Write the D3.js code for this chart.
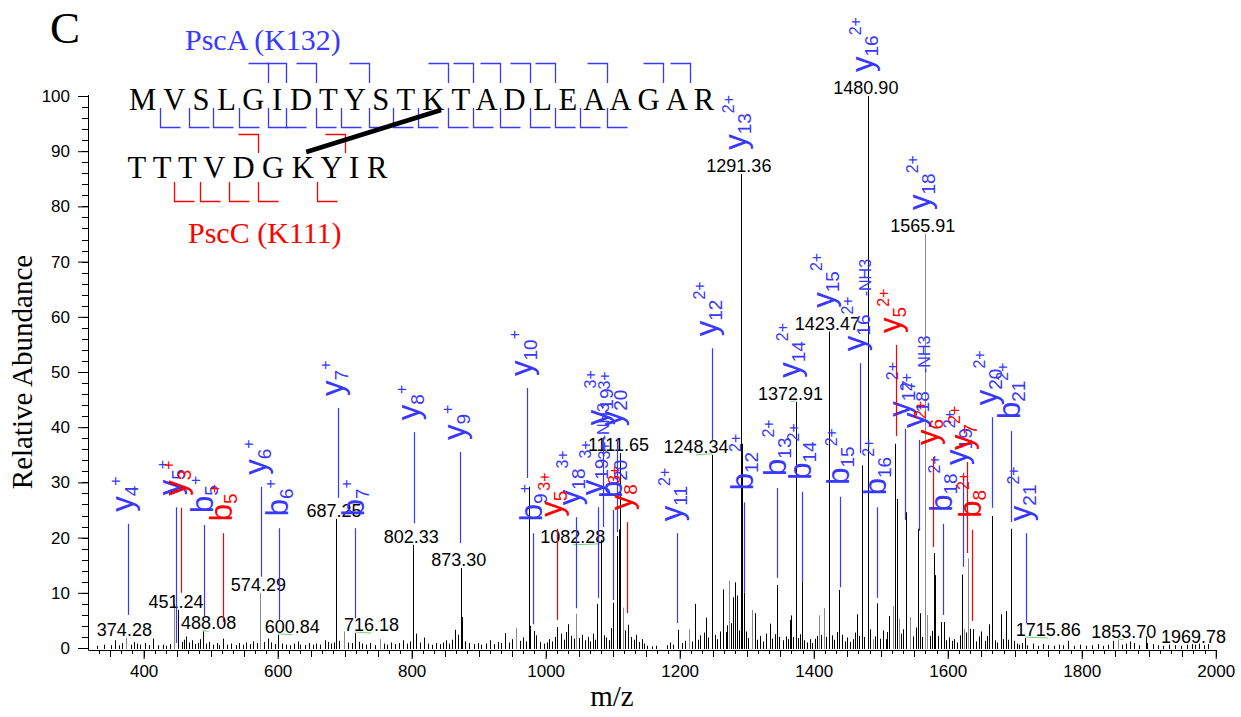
<!DOCTYPE html>
<html>
<head>
<meta charset="UTF-8">
<title>PscA (K132) - PscC (K111) cross-linked peptide, MS/MS spectrum</title>
<script src="https://cdn.jsdelivr.net/npm/d3@7"></script>
<style>
  body { margin: 0; background: #fff; }
  svg { display: block; }
  .axis text { font-family: "Liberation Sans", Arial, sans-serif; font-size: 17px; fill: #000; }
  .axis path, .axis line { stroke: #000; }
  .serif { font-family: "Liberation Serif", "Times New Roman", serif; }
  .sans { font-family: "Liberation Sans", Arial, sans-serif; }
</style>
</head>
<body>
<div id="chart"></div>
<script>
// ---- data: [m/z, relative abundance] ----
var peaks = [
  [330.5,0.4],[341.2,0.6],[352.0,0.5],[357.3,1.4],[362.8,0.5],[368.1,0.9],[374.28,1.9],[381.6,0.6],
  [386.2,1.1],[390.4,0.8],[395.0,0.6],[401.7,0.9],[407.3,0.5],[414.1,1.7],[421.5,0.5],[428.9,0.6],
  [433.2,0.4],[439.8,0.7],[446.0,8.0],[451.24,6.9],[457.5,1.1],[460.5,1.5],[463.4,2.1],[468.0,1.0],
  [472.6,1.4],[477.0,0.7],[481.3,0.9],[484.7,1.6],[488.08,3.0],[493.0,0.8],[497.5,1.1],[503.6,0.6],
  [509.2,0.9],[513.0,0.5],[518.9,1.7],[524.4,0.6],[531.0,0.8],[537.2,0.5],[542.7,0.9],[548.3,0.6],
  [553.1,1.0],[558.9,0.7],[563.2,1.2],[568.7,0.9],[574.29,10.0],[579.6,1.1],[585.0,1.7],[590.3,1.0],
  [596.2,0.7],[600.84,2.4],[606.1,0.8],[612.5,0.6],[618.0,0.5],[624.4,0.8],[629.8,1.2],[634.1,0.6],
  [640.5,0.5],[646.9,0.9],[652.3,0.6],[658.0,0.8],[663.7,0.6],[670.6,1.4],[675.3,1.1],[680.2,0.8],
  [684.0,1.0],[687.25,23.4],[691.0,1.3],[699.4,3.0],[704.3,1.0],[710.5,0.9],[716.18,2.7],[720.8,1.1],
  [726.0,0.8],[731.7,0.6],[738.2,0.9],[744.6,0.5],[752.7,1.6],[758.3,0.8],[763.0,0.6],[769.5,1.0],
  [775.1,0.7],[781.4,0.9],[787.0,1.4],[793.8,0.8],[797.6,1.2],[801.5,2.0],[802.33,18.7],[806.4,2.6],
  [812.1,1.0],[818.8,1.9],[824.5,0.8],[830.2,0.6],[836.7,0.9],[842.3,0.7],[846.9,1.0],[851.0,1.4],
  [856.4,0.8],[860.3,1.5],[864.6,3.3],[869.0,2.4],[873.30,14.5],[875.0,5.6],[880.2,1.2],[886.0,0.9],
  [892.4,0.7],[898.7,0.9],[904.1,0.6],[911.0,0.8],[917.0,1.4],[923.5,0.7],[928.8,1.1],[933.4,0.9],
  [939.0,2.7],[944.6,1.0],[950.2,1.6],[956.0,3.6],[961.8,1.3],[966.5,1.9],[970.0,1.2],[975.5,29.2],
  [977.0,4.0],[982.0,3.1],[986.0,2.3],[991.4,1.1],[996.8,0.8],[1001.3,1.0],[1005.0,1.6],[1010.2,1.2],
  [1013.5,2.0],[1017.0,3.8],[1022.6,2.6],[1027.1,1.5],[1030.0,2.9],[1033.7,4.3],[1038.5,2.2],[1042.0,1.7],
  [1045.7,6.2],[1050.3,1.8],[1054.0,2.4],[1058.5,1.4],[1062.7,2.0],[1066.3,1.2],[1070.9,2.6],[1074.0,1.5],
  [1077.0,8.0],[1082.28,19.6],[1086.4,2.3],[1090.0,1.9],[1094.2,1.4],[1097.0,3.6],[1100.0,8.2],[1106.0,20.3],
  [1109.5,21.5],[1111.65,35.3],[1115.0,7.3],[1118.3,3.2],[1123.0,4.2],[1127.5,2.0],[1131.2,1.5],[1135.4,2.4],
  [1139.0,1.1],[1143.6,1.6],[1147.0,0.8],[1152.0,0.4],[1158.0,0.3],[1165.0,0.4],[1180.5,0.5],[1185.0,1.0],
  [1190.3,0.6],[1198.0,3.3],[1203.4,0.9],[1208.0,1.3],[1214.0,3.4],[1218.5,1.2],[1223.0,8.0],[1227.6,1.5],
  [1231.0,2.3],[1236.0,2.8],[1239.0,5.5],[1243.0,1.9],[1247.7,16.5],[1248.34,35.0],[1252.0,2.4],[1256.3,1.6],
  [1260.0,3.0],[1264.0,10.6],[1268.5,2.9],[1271.0,4.1],[1274.0,12.2],[1277.0,4.5],[1280.0,9.2],[1282.5,11.9],
  [1285.0,9.5],[1288.0,3.2],[1291.36,85.9],[1293.4,37.0],[1296.0,10.0],[1298.6,3.0],[1302.0,1.8],[1307.5,6.9],
  [1312.0,6.3],[1316.0,1.5],[1320.5,2.2],[1325.0,1.2],[1329.3,2.6],[1334.8,4.4],[1338.5,1.7],[1342.0,2.5],
  [1345.6,11.4],[1349.0,2.0],[1353.5,1.4],[1358.0,2.1],[1361.0,1.6],[1364.6,5.1],[1366.5,5.9],[1369.5,2.0],
  [1372.91,44.6],[1376.0,1.8],[1379.0,2.5],[1382.5,12.2],[1386.0,1.4],[1390.5,1.0],[1394.0,1.6],[1398.0,0.9],
  [1401.5,1.7],[1405.0,2.2],[1408.4,5.9],[1411.0,2.4],[1415.0,7.2],[1418.0,2.0],[1423.47,57.3],[1427.0,2.3],
  [1431.0,1.5],[1435.0,2.9],[1438.0,10.5],[1442.0,2.4],[1446.5,1.2],[1450.0,1.9],[1454.5,1.1],[1458.0,1.6],
  [1461.0,2.8],[1464.0,6.1],[1468.0,2.2],[1471.6,33.1],[1475.0,2.0],[1480.90,100],[1484.0,3.4],[1488.0,1.6],
  [1491.0,2.1],[1494.9,8.1],[1499.0,1.7],[1503.0,3.2],[1507.5,1.6],[1510.0,2.9],[1513.0,5.8],[1518.0,7.6],
  [1521.7,37.0],[1524.8,27.0],[1528.0,5.3],[1531.0,2.6],[1534.0,3.4],[1537.3,24.6],[1544.0,5.6],[1548.0,2.1],
  [1552.0,3.7],[1556.0,21.6],[1558.5,6.3],[1562.0,2.0],[1565.91,75.0],[1569.0,6.0],[1573.0,2.2],[1576.0,3.1],
  [1580.0,17.2],[1581.5,13.2],[1585.0,2.2],[1590.0,4.7],[1594.5,4.7],[1598.0,1.4],[1602.0,1.9],[1606.0,1.3],
  [1610.0,1.6],[1614.0,1.0],[1618.0,2.3],[1621.8,13.3],[1625.0,3.5],[1628.0,2.8],[1630.7,16.2],[1634.0,3.5],
  [1638.0,3.4],[1642.0,1.2],[1646.0,2.1],[1650.0,3.0],[1655.0,1.3],[1659.0,2.2],[1662.0,4.3],[1666.5,23.9],
  [1670.0,1.4],[1674.0,1.0],[1679.0,6.1],[1682.0,1.6],[1686.6,6.7],[1690.0,1.5],[1695.0,21.6],[1699.0,1.3],
  [1703.0,0.8],[1707.0,0.6],[1711.0,0.9],[1715.86,1.8],[1719.0,0.5],[1727.0,0.8],[1735.0,0.4],[1742.0,0.7],
  [1750.0,0.5],[1758.0,0.4],[1766.0,0.6],[1772.0,0.5],[1779.0,1.3],[1788.0,0.4],[1797.0,0.6],[1806.0,0.4],
  [1815.0,0.5],[1824.0,0.7],[1832.0,0.4],[1840.0,0.6],[1846.0,1.3],[1853.70,1.5],[1860.0,0.6],[1866.0,0.8],
  [1872.0,1.2],[1878.0,0.9],[1886.0,0.5],[1895.4,2.1],[1898.0,0.9],[1906.0,0.7],[1914.0,0.5],[1922.0,0.4],
  [1931.0,0.6],[1940.0,0.5],[1948.0,0.4],[1957.0,0.6],[1964.0,0.7],[1969.78,0.6],[1975.0,0.8],[1983.0,0.5],
  [1989.0,0.7]
];

// peaks that the software drew in grey
var greyPeaks = [374.28, 446.0, 574.29, 699.4, 752.7, 956.0, 1045.7, 1115.0, 1214.0, 1274.0, 1307.5,
  1408.4, 1415.0, 1488.0, 1518.0, 1528.0, 1544.0, 1565.91, 1569.0, 1625.0, 1630.7, 1853.70];

// peaks carrying an m/z label
var labelledPeaks = [374.28, 451.24, 488.08, 574.29, 600.84, 687.25, 716.18, 802.33, 873.30, 1082.28,
  1111.65, 1248.34, 1291.36, 1372.91, 1423.47, 1480.90, 1565.91, 1715.86, 1853.70, 1969.78];

// fragment ions: [series, number, charge, loss, m/z, line bottom, line top]
// (a null bottom means the label sits on the peak itself)
var ionsPscA = [
  ["y","4","+","",377.0,6.0,22.5],
  ["y","5","+","",447.8,0.9,25.5],
  ["b","5","+","",490.4,5.8,22.3],
  ["y","6","+","",575.5,12.9,29.2],
  ["b","6","+","",602.4,5.1,21.7],
  ["y","7","+","",690.4,27.2,43.5],
  ["b","7","+","",715.8,5.4,21.7],
  ["y","8","+","",803.9,22.6,39.1],
  ["y","9","+","",872.5,19.0,35.5],
  ["y","10","+","",972.5,30.8,47.1],
  ["b","9","+","",981.5,4.3,20.8],
  ["y","18","3+","",1044.8,7.2,23.7],
  ["y","19","3+","-NH3",1078.5,9.1,25.5],
  ["y","19","3+","",1086.0,21.9,38.2],
  ["b","20","3+","",1100.9,8.7,25.0],
  ["y","20","3+","",1106.9,21.0,38.0],
  ["y","11","2+","",1196.4,4.5,20.8],
  ["y","12","2+","",1248.6,37.7,54.3],
  ["y","13","2+","",1291.36,null,85.9],
  ["b","12","2+","",1296.4,10.0,26.4],
  ["b","13","2+","",1345.6,12.7,29.0],
  ["y","14","2+","",1372.91,null,44.6],
  ["b","14","2+","",1383.0,12.0,28.3],
  ["y","15","2+","",1423.47,null,57.3],
  ["b","15","2+","",1439.7,11.0,27.4],
  ["y","16","2+","-NH3",1469.5,35.3,51.6],
  ["y","16","2+","",1480.90,null,100],
  ["b","16","2+","",1494.9,9.1,25.5],
  ["y","17","2+","",1536.7,23.2,39.7],
  ["y","18","2+","-NH3",1557.6,21.2,37.7],
  ["y","18","2+","",1565.91,null,75.0],
  ["b","18","2+","",1593.4,6.0,22.5],
  ["y","19","2+","",1622.4,14.7,31.0],
  ["y","20","2+","",1666.5,25.4,41.8],
  ["b","21","2+","",1694.9,22.8,39.3],
  ["y","21","2+","",1717.3,4.5,20.8]
];
var ionsPscC = [
  ["y","3","+","",456.1,10.0,25.4],
  ["b","5","+","",518.8,4.7,20.8],
  ["y","5","3+","",1017.3,5.1,21.6],
  ["y","8","3+","",1121.8,6.3,22.8],
  ["y","5","2+","",1522.8,38.4,54.9],
  ["y","6","2+","",1578.5,18.3,34.6],
  ["y","7","2+","",1629.2,17.2,33.7],
  ["b","8","2+","",1636.7,4.9,21.4]
];

// peptide sequences and observed cleavages (after residue n, 1-based)
var seqPscA = "MVSLGIDTYSTKTADLEAAGAR";
var seqPscC = "TTTVDGKYIR";
var cutsPscAAbove = [5, 6, 7, 9, 12, 13, 14, 15, 16, 18, 20, 21];
var cutsPscABelow = [1, 2, 3, 4, 5, 6, 7, 8, 9, 10, 11, 12, 13, 14, 15, 16, 17, 18];
var cutsPscCAbove = [5, 8];
var cutsPscCBelow = [2, 3, 4, 5, 7];
var linkPscA = 12, linkPscC = 7;   // the two cross-linked K residues

// ---- layout ----
var width = 1241, height = 717;
var blue = "#3838ff", red = "#ff0000";
// labels moved aside by the software (px), with a green leader back to the peak
var labelShift = { 488.08: [6, 0], 600.84: [14, 0], 716.18: [16, 0], 1082.28: [-28, 5],
  1248.34: [-16, 0], 1372.91: [-5, 0], 1715.86: [23, 0], 1853.70: [6, 0] };

var svg = d3.select("#chart").append("svg")
    .attr("width", width).attr("height", height);

var x = d3.scaleLinear().domain([317, 2000]).range([88, 1215.7]);
var y = d3.scaleLinear().domain([0, 100]).range([648, 96]);

// axes
var xAxis = svg.append("g").attr("class", "axis").attr("transform", "translate(0,650)")
    .call(d3.axisBottom(x).tickValues(d3.range(400, 2001, 200)).tickFormat(d3.format("d"))
      .tickSize(9).tickSizeOuter(0).tickPadding(6));
var minorX = d3.range(20, 121).map(function (k) { return k * 100 / 6; });
xAxis.selectAll(".minor").data(minorX).enter().append("line")
    .attr("class", "minor")
    .attr("x1", function (d) { return Math.round(x(d)) + 0.5; })
    .attr("x2", function (d) { return Math.round(x(d)) + 0.5; })
    .attr("y1", 0)
    .attr("y2", function (d, i) { return (i + 20) % 3 === 0 ? 7 : 4; })
    .attr("stroke", "#000");

var yAxis = svg.append("g").attr("class", "axis").attr("transform", "translate(88,0)")
    .call(d3.axisLeft(y).tickValues(d3.range(0, 101, 10)).tickSize(10).tickSizeOuter(0).tickPadding(8));
yAxis.selectAll(".minor").data(d3.range(0, 101, 2)).enter().append("line")
    .attr("class", "minor")
    .attr("x1", -6).attr("x2", 0)
    .attr("y1", function (d) { return Math.round(y(d)) + 0.5; })
    .attr("y2", function (d) { return Math.round(y(d)) + 0.5; })
    .attr("stroke", "#000");
yAxis.select(".domain").attr("d", "M0.5," + (y(100) - 1) + "V650.5");

svg.append("text").attr("class", "serif")
    .attr("transform", "translate(32,372) rotate(-90)")
    .attr("text-anchor", "middle").attr("font-size", 29)
    .text("Relative Abundance");
svg.append("text").attr("class", "serif")
    .attr("x", 612).attr("y", 706).attr("text-anchor", "middle").attr("font-size", 29)
    .text("m/z");
svg.append("text").attr("class", "serif")
    .attr("x", 50).attr("y", 43).attr("font-size", 45)
    .text("C");

// spectrum
function isGrey(mz) { return greyPeaks.indexOf(mz) >= 0; }
svg.append("g").selectAll("line").data(peaks).enter().append("line")
    .attr("x1", function (d) { return Math.round(x(d[0])) + 0.5; })
    .attr("x2", function (d) { return Math.round(x(d[0])) + 0.5; })
    .attr("y1", y(0) + 1)
    .attr("y2", function (d) { return y(d[1]); })
    .attr("stroke", function (d) { return isGrey(d[0]) ? "#8a8a8a" : "#000"; })
    .attr("stroke-width", 1);

// m/z labels
var labelled = peaks.filter(function (d) { return labelledPeaks.indexOf(d[0]) >= 0; });
function shiftOf(mz) { return labelShift[mz] || [-2, 0]; }
svg.append("g").selectAll("line").data(labelled.filter(function (d) { return labelShift[d[0]]; }))
  .enter().append("line")
    .attr("x1", function (d) { return x(d[0]); })
    .attr("x2", function (d) { return x(d[0]) + shiftOf(d[0])[0]; })
    .attr("y1", function (d) { return y(d[1]) - 1 + shiftOf(d[0])[1]; })
    .attr("y2", function (d) { return y(d[1]) + shiftOf(d[0])[1]; })
    .attr("stroke", "#7ccf7c").attr("stroke-width", 1);
svg.append("g").selectAll("text").data(labelled).enter().append("text")
    .attr("class", "sans")
    .attr("x", function (d) { return x(d[0]) + shiftOf(d[0])[0]; })
    .attr("y", function (d) { return y(d[1]) - 2 + shiftOf(d[0])[1]; })
    .attr("text-anchor", "middle").attr("font-size", 18)
    .text(function (d) { return d[0].toFixed(2); });

// fragment-ion annotations
function drawIons(rows, colour) {
  var g = svg.append("g");
  g.selectAll("line").data(rows.filter(function (d) { return d[5] !== null; }))
    .enter().append("line")
      .attr("x1", function (d) { return Math.round(x(d[4])) + 0.5; })
      .attr("x2", function (d) { return Math.round(x(d[4])) + 0.5; })
      .attr("y1", function (d) { return y(d[5]); })
      .attr("y2", function (d) { return y(d[6]); })
      .attr("stroke", colour).attr("stroke-width", 1.2);
  var lab = g.selectAll("text").data(rows).enter().append("text")
      .attr("class", "sans").attr("fill", colour)
      .attr("transform", function (d) {
        var lx = x(d[4]) + (d[0] === "b" ? 8.5 : 4.8);
        var ly = y(d[6]) - (d[5] === null ? 24 : 12);
        return "translate(" + lx + "," + ly + ") rotate(-90)";
      });
  lab.append("tspan").attr("font-size", 31).text(function (d) { return d[0]; });
  lab.append("tspan").attr("font-size", 19).attr("dy", 5).text(function (d) { return d[1]; });
  lab.append("tspan").attr("font-size", 16).attr("dy", -17).text(function (d) { return d[2]; });
  lab.append("tspan").attr("font-size", 16).attr("dy", 18).text(function (d) { return d[3]; });
}
drawIons(ionsPscA, blue);
drawIons(ionsPscC, red);

// peptide sequence panel
function drawSeq(seq, x0, base, colour, above, below, aboveY, belowY) {
  var t = svg.append("text").attr("class", "serif")
      .attr("x", x0).attr("y", base).attr("font-size", 30.6)
      .text(seq.split("").join(" "));
  var node = t.node();
  function gap(n) { var e = node.getExtentOfChar(2 * n - 1); return Math.round(e.x + e.width / 2) + 0.5; }
  var g = svg.append("g").attr("fill", "none").attr("stroke", colour).attr("stroke-width", 1.3);
  above.forEach(function (n) {
    var gx = gap(n);
    g.append("path").attr("d", "M" + (gx - 20) + "," + aboveY[0] + "H" + gx + "V" + aboveY[1]);
  });
  below.forEach(function (n) {
    var gx = gap(n);
    g.append("path").attr("d", "M" + gx + "," + belowY[0] + "V" + belowY[1] + "H" + (gx + 20));
  });
  return node;
}
var nodeA = drawSeq(seqPscA, 129, 110, blue, cutsPscAAbove, cutsPscABelow, [63.5, 83], [108, 127.5]);
var nodeC = drawSeq(seqPscC, 127.5, 178, red, cutsPscCAbove, cutsPscCBelow, [134.5, 153], [182, 201.5]);

var kA = nodeA.getExtentOfChar(2 * (linkPscA - 1));
var kC = nodeC.getExtentOfChar(2 * (linkPscC - 1));
svg.append("line")
    .attr("x1", kC.x + kC.width * 0.65).attr("y1", 152)
    .attr("x2", kA.x + kA.width * 0.85).attr("y2", 110)
    .attr("stroke", "#000").attr("stroke-width", 4.5);

svg.append("text").attr("class", "serif").attr("fill", blue)
    .attr("x", 185).attr("y", 50).attr("font-size", 30).text("PscA (K132)");
svg.append("text").attr("class", "serif").attr("fill", red)
    .attr("x", 188).attr("y", 243).attr("font-size", 30).text("PscC (K111)");
</script>
</body>
</html>
